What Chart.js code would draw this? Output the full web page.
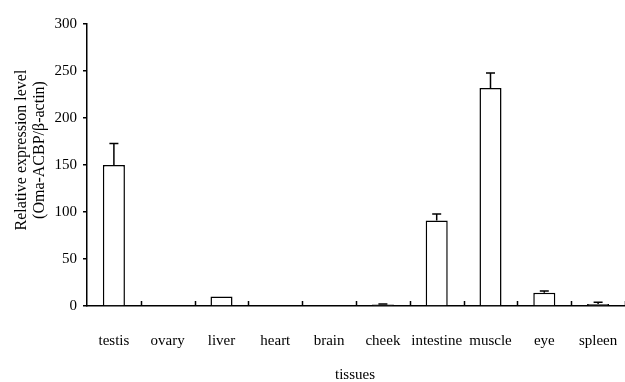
<!DOCTYPE html>
<html>
<head>
<meta charset="utf-8">
<script src="https://cdn.jsdelivr.net/npm/chart.js@4"></script>
<style>
  html, body { margin: 0; padding: 0; background: #fff; }
  #wrap { width: 625px; height: 382px; position: relative; }
</style>
</head>
<body>
<div id="wrap"><canvas id="tissueChart"></canvas></div>
<script>
const tissues = ["testis", "ovary", "liver", "heart", "brain", "cheek", "intestine", "muscle", "eye", "spleen"];
const expression = [150, 0, 10, 0, 1, 1.5, 91, 232, 14, 2];
const errors = [23, 0, 0, 0, 0, 0.5, 7, 16, 2, 2];
const yTicks = [0, 50, 100, 150, 200, 250, 300];

const serif = "'Liberation Serif', 'Times New Roman', serif";

// error bars (upper only) + inward category ticks + axis titles
const extras = {
  id: "extras",
  afterDatasetsDraw(chart) {
    const ctx = chart.ctx;
    const x = chart.scales.x;
    const y = chart.scales.y;
    const meta = chart.getDatasetMeta(0);
    ctx.save();
    ctx.strokeStyle = "#000";
    ctx.lineWidth = 1.5;
    meta.data.forEach((bar, i) => {
      if (!errors[i]) return;
      const top = y.getPixelForValue(expression[i] + errors[i]);
      ctx.beginPath();
      ctx.moveTo(bar.x, bar.y);
      ctx.lineTo(bar.x, top);
      ctx.moveTo(bar.x - 4.5, top);
      ctx.lineTo(bar.x + 4.5, top);
      ctx.stroke();
    });
    // ticks between categories, pointing up
    const half = (x.getPixelForValue(1) - x.getPixelForValue(0)) / 2;
    for (let i = 0; i < tissues.length; i++) {
      const px = Math.round(x.getPixelForValue(i) + half) + 0.5;
      ctx.beginPath();
      ctx.moveTo(px, y.bottom);
      ctx.lineTo(px, y.bottom - 5);
      ctx.stroke();
    }
    ctx.fillStyle = "#000";
    ctx.textAlign = "center";
    ctx.textBaseline = "alphabetic";
    ctx.font = "15px " + serif;
    ctx.fillText("tissues", 355, 379);
    ctx.textBaseline = "middle";
    ctx.translate(31, 150);
    ctx.rotate(-Math.PI / 2);
    ctx.font = "16px " + serif;
    ctx.fillText("Relative expression level", 0, -9);
    ctx.fillText("(Oma-ACBP/\u03b2-actin)", 0, 9);
    ctx.restore();
  },
};

new Chart(document.getElementById("tissueChart"), {
  type: "bar",
  data: {
    labels: tissues,
    datasets: [
      {
        data: expression,
        backgroundColor: "#fff",
        borderColor: "#000",
        borderWidth: 1.5,
        barPercentage: 0.41,
        categoryPercentage: 1,
        minBarLength: 1,
      },
    ],
  },
  options: {
    responsive: true,
    maintainAspectRatio: false,
    animation: false,
    devicePixelRatio: 1,
    layout: { padding: { top: 24, left: 0, right: 0, bottom: 0 } },
    plugins: {
      legend: { display: false },
      tooltip: { enabled: false },
    },
    scales: {
      x: {
        grid: { display: false },
        border: { display: true, color: "#000", width: 1.5 },
        ticks: {
          color: "#000",
          font: { family: serif, size: 15 },
          padding: 18,
          maxRotation: 0,
          autoSkip: false,
        },
        afterFit(scale) {
          scale.height = 76;
          scale.paddingLeft = 0;
          scale.paddingRight = 0;
        },
      },
      y: {
        min: 0,
        max: 300,
        afterBuildTicks(scale) {
          scale.ticks = yTicks.map((v) => ({ value: v }));
        },
        grid: {
          drawOnChartArea: false,
          drawTicks: true,
          tickLength: 4,
          color: "#000",
          lineWidth: 1.5,
        },
        border: { display: true, color: "#000", width: 1.5 },
        ticks: {
          color: "#000",
          font: { family: serif, size: 15 },
          padding: 6,
        },
        afterFit(scale) {
          scale.width = 87;
        },
      },
    },
  },
  plugins: [extras],
});
</script>
</body>
</html>
